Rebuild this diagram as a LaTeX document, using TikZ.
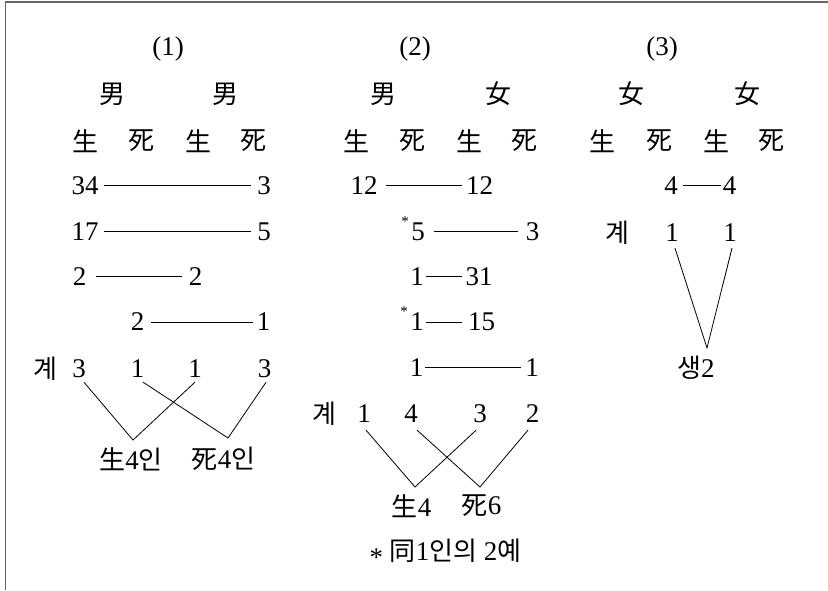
\documentclass[tikz,border=0pt]{standalone}
\usepackage{fontspec}
\setmainfont{Liberation Serif}
\newfontfamily\krfont{Noto Sans CJK KR}
\newcommand{\hj}[1]{{\krfont\fontsize{26pt}{30pt}\selectfont #1}}

\begin{document}
\begin{tikzpicture}[x=1pt,y=-1pt,font=\fontsize{27pt}{30pt}\selectfont,
  every node/.style={inner sep=2pt},
  link/.style={line width=0.8pt},
  gap/.style 2 args={shorten <=#1,shorten >=#2},
  star/.style={font=\fontsize{15pt}{15pt}\selectfont,inner sep=0pt}]
\useasboundingbox (0,0) rectangle (828,590);
\draw[black!60, line width=1.3pt] (828,2) -- (5.5,2) -- (5.5,590);

% headings
\node (p1t) at (168,49) {(1)};
\node (p2t) at (415,49) {(2)};
\node (p3t) at (662,49) {(3)};
\node (p1m) at (112,94) {\hj{男}};
\node (p1n) at (225,94) {\hj{男}};
\node (p2m) at (383,94) {\hj{男}};
\node (p2n) at (498,94) {\hj{女}};
\node (p3m) at (631,94) {\hj{女}};
\node (p3n) at (747,94) {\hj{女}};
\foreach \x/\t [count=\i] in {85/生,141/死,198/生,253/死,356/生,412.5/死,469/生,524/死,602.5/生,659/死,716/生,771/死}
  \node (h\i) at (\x,141) {\hj{\t}};

% (1)
\node (p1a1) at (85,185.5) {34};   \node (p1b1) at (264,185.5) {3};
\node (p1a2) at (85,231.5) {17};   \node (p1b2) at (264,231.5) {5};
\node (p1a3) at (79.5,276.5) {2};  \node (p1b3) at (195.5,276.5) {2};
\node (p1a4) at (137.5,322) {2};   \node (p1b4) at (263.5,322) {1};
\draw[link, gap={3.5pt}{4pt}] (p1a1) -- (p1b1);
\draw[link, gap={3.5pt}{4pt}] (p1a2) -- (p1b2);
\draw[link, gap={7.5pt}{4.5pt}] (p1a3) -- (p1b3);
\draw[link, gap={4.5pt}{1.5pt}] (p1a4) -- (p1b4);

\node (p1k) at (45,369) {\hj{계}};
\node (p1s1) at (79,369) {3};
\node (p1s2) at (137.5,369) {1};
\node (p1s3) at (195,369) {1};
\node (p1s4) at (264.5,369) {3};
\node (p1e1) at (131,459) {\hj{生}4\hj{인}};
\node (p1e2) at (223.5,459) {\hj{死}4\hj{인}};
\coordinate (p1v1) at (133,440);
\coordinate (p1v2) at (228,438);
\draw[link] ([xshift=5pt,yshift=-2pt]p1s1.south) -- (p1v1) -- ([yshift=-2pt]p1s3.south);
\draw[link] ([xshift=5.5pt,yshift=-2pt]p1s2.south) -- (p1v2) -- ([xshift=1.5pt,yshift=-2pt]p1s4.south);

% (2)
\node (p2a1) at (364,185.5) {12};  \node (p2b1) at (479.5,185.5) {12};
\node[label={[star]150:*}] (p2a2) at (418,231.5) {5};
\node (p2b2) at (532.5,231.5) {3};
\node (p2a3) at (417,276.5) {1};   \node (p2b3) at (479,276.5) {31};
\node[label={[star]150:*}] (p2a4) at (417,322) {1};
\node (p2b4) at (481.5,322) {15};
\node (p2a5) at (416.5,367.5) {1}; \node (p2b5) at (532,367.5) {1};
\draw[link, gap={6.5pt}{2pt}] (p2a1) -- (p2b1);
\draw[link, gap={7pt}{5.5pt}] (p2a2) -- (p2b2);
\draw[link, gap={0pt}{1.5pt}] (p2a3) -- (p2b3);
\draw[link, gap={0pt}{4pt}] (p2a4) -- (p2b4);
\draw[link, gap={0pt}{2pt}] (p2a5) -- (p2b5);

\node (p2k) at (324,414) {\hj{계}};
\node (p2s1) at (364,414) {1};
\node (p2s2) at (411,414) {4};
\node (p2s3) at (480,414) {3};
\node (p2s4) at (532.5,414) {2};
\node (p2e1) at (411.5,506) {\hj{生}4};
\node (p2e2) at (481.5,506) {\hj{死}6};
\coordinate (p2v1) at (415,487);
\coordinate (p2v2) at (480,487);
\draw[link] ([xshift=2pt,yshift=-5pt]p2s1.south) -- (p2v1) -- ([xshift=-4pt,yshift=-5pt]p2s3.south);
\draw[link] ([xshift=6pt,yshift=-5pt]p2s2.south) -- (p2v2) -- ([xshift=-4.5pt,yshift=-5pt]p2s4.south);
\node (p2note) at (445.5,553) {\raisebox{-6pt}{*} \hj{同}1\hj{인의} 2\hj{예}};

% (3)
\node (p3a1) at (671,185.5) {4};   \node (p3b1) at (729.5,185.5) {4};
\draw[link, gap={3pt}{0pt}] (p3a1) -- (p3b1);
\node (p3k) at (617.5,233) {\hj{계}};
\node (p3s1) at (672,233) {1};
\node (p3s2) at (730,233) {1};
\node (p3e) at (696,368) {\hj{생}2};
\coordinate (p3v) at (707,348);
\draw[link] ([xshift=3pt,yshift=-4pt]p3s1.south) -- (p3v) -- ([xshift=2pt,yshift=-4pt]p3s2.south);
\end{tikzpicture}
\end{document}
